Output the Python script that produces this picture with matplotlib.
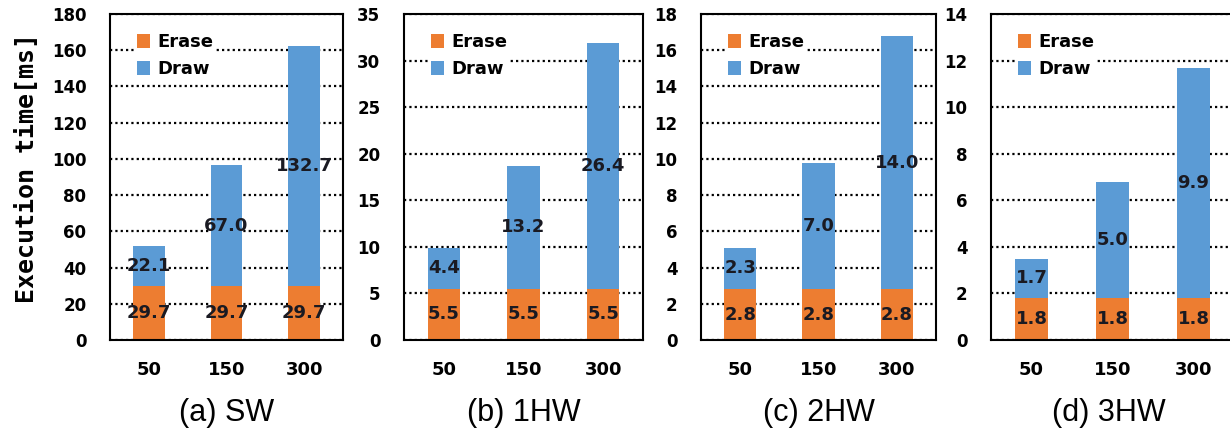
import matplotlib
matplotlib.use("Agg")
import matplotlib.pyplot as plt
import numpy as np

categories = ["50", "150", "300"]
panels = ["(a) SW", "(b) 1HW", "(c) 2HW", "(d) 3HW"]
erase = [
    [29.7, 29.7, 29.7],
    [5.5, 5.5, 5.5],
    [2.8, 2.8, 2.8],
    [1.8, 1.8, 1.8],
]
draw = [
    [22.1, 67.0, 132.7],
    [4.4, 13.2, 26.4],
    [2.3, 7.0, 14.0],
    [1.7, 5.0, 9.9],
]
ymax = [180, 35, 18, 14]
ystep = [20, 5, 2, 2]

ERASE_C = "#ED7D31"
DRAW_C = "#5B9BD5"
TXT_C = "#1a1a22"

W, H = 1230, 436
fig = plt.figure(figsize=(W / 100, H / 100), dpi=100)

# pixel boxes (left, right)
boxes = [(110, 343), (404, 643), (701, 936), (991, 1234)]
top_px, bot_px = 14, 340

for i, (l, r) in enumerate(boxes):
    ax = fig.add_axes([l / W, 1 - bot_px / H, (r - l) / W, (bot_px - top_px) / H])
    x = np.arange(len(categories))
    ax.set_axisbelow(True)
    ax.yaxis.grid(True, color="black", linestyle=(0, (1, 1.4)), linewidth=1.6)
    ax.bar(x, erase[i], width=0.41, color=ERASE_C, label="Erase", zorder=2)
    ax.bar(x, draw[i], width=0.41, bottom=erase[i], color=DRAW_C, label="Draw", zorder=2)
    for xi, e, d in zip(x, erase[i], draw[i]):
        ax.text(xi, e / 2, f"{e:.1f}", ha="center", va="center", fontsize=13,
                fontweight="bold", color=TXT_C, zorder=3)
        ax.text(xi, e + d / 2, f"{d:.1f}", ha="center", va="center", fontsize=13,
                fontweight="bold", color=TXT_C, zorder=3)
    ax.set_xlim(-0.5, 2.5)
    ax.set_ylim(0, ymax[i])
    ax.set_yticks(np.arange(0, ymax[i] + 0.001, ystep[i]))
    ax.set_xticks(x)
    ax.set_xticklabels(categories)
    ax.tick_params(axis="both", length=0)
    ax.tick_params(axis="y", pad=17, labelsize=12)
    ax.tick_params(axis="x", pad=15, labelsize=13)
    for lab in ax.get_xticklabels() + ax.get_yticklabels():
        lab.set_fontweight("bold")
    for sp in ax.spines.values():
        sp.set_linewidth(1.5)
        sp.set_color("black")
    axw = r - l
    leg = ax.legend(loc="upper left", bbox_to_anchor=(24 / axw, 0.949),
                    prop={"weight": "bold", "size": 13},
                    handlelength=0.75, handleheight=0.75, handletextpad=0.4,
                    borderpad=0.15, labelspacing=0.5, frameon=True, fancybox=False,
                    borderaxespad=0.0)
    leg.get_frame().set_facecolor("white")
    leg.get_frame().set_edgecolor("none")
    leg.get_frame().set_alpha(1.0)
    leg.set_zorder(1.5)
    cx = (l + min(r, 1226)) / 2 / W
    fig.text(cx, 1 - 413 / H, panels[i], ha="center", va="center", fontsize=22,
             family="Liberation Sans")

fig.text(27 / W, 1 - 168 / H, "Execution time[ms]", rotation=90, ha="center",
         va="center", fontsize=18, family="DejaVu Sans Mono", fontweight="bold")

fig.savefig("out.png", dpi=100)
